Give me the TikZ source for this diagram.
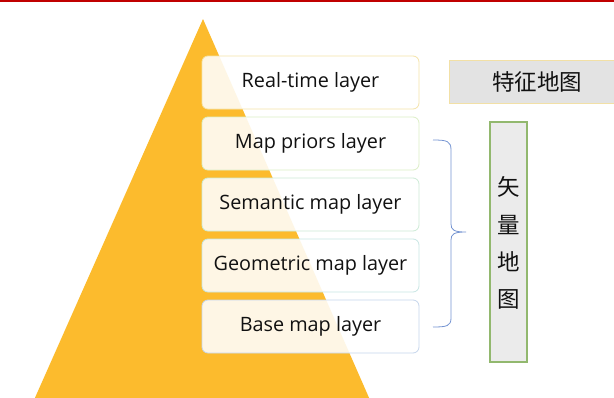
\documentclass[tikz,border=0pt]{standalone}
\usepackage{fontspec}
\setmainfont{Open Sans}
\newfontfamily\cjk{Noto Sans CJK SC}
\definecolor{tri}{HTML}{FCBB2D}
\definecolor{redline}{HTML}{C00000}
\definecolor{bA}{HTML}{F5E3A8}
\definecolor{bB}{HTML}{DCEFC6}
\definecolor{bC}{HTML}{CDEBD6}
\definecolor{bD}{HTML}{C8E6E4}
\definecolor{bE}{HTML}{C6D6EC}
\definecolor{bracec}{HTML}{7594D2}
\definecolor{graybox}{HTML}{E3E3E3}
\definecolor{graybox2}{HTML}{EBEBEB}
\definecolor{greenb}{HTML}{92B86E}
\definecolor{yelb}{HTML}{F2E0A6}
\definecolor{txt}{HTML}{111111}
\begin{document}
\begin{tikzpicture}[x=1pt,y=-1pt,
  layerbox/.style={draw, line width=0.8pt, rounded corners=6pt, fill=white, fill opacity=0.88, text opacity=1,
    minimum width=217pt, minimum height=53pt, inner sep=0pt, text=txt, font=\fontsize{19.8}{22}\selectfont},
  cjktext/.style={text=txt, font=\cjk\fontsize{22.5}{25}\selectfont}]
\useasboundingbox (0,0) rectangle (614,397);
\fill[white] (0,0) rectangle (614,397);
\draw[redline, line width=2.2pt] (0,1) -- (614,1);
% pyramid
\fill[tri] (203,19) -- (370,400) -- (34,400) -- cycle;
% layer boxes
\node[layerbox, draw=bA] (rt) at (310.5,82.5) {Real-time layer};
\node[layerbox, draw=bB] (mp) at (310.5,143.5) {Map priors layer};
\node[layerbox, draw=bC] (sm) at (310.5,204.5) {Semantic map layer};
\node[layerbox, draw=bD] (gm) at (310.5,265.5) {Geometric map layer};
\node[layerbox, draw=bE] (bm) at (310.5,326.5) {Base map layer};
% feature map box
\node[draw=yelb, fill=graybox, line width=1pt, minimum width=176pt, minimum height=43pt, inner sep=0pt, cjktext] (fm) at (537,81.5) {特征地图};
% vector map box
\node[draw=greenb, fill=graybox2, line width=1.2pt, minimum width=37pt, minimum height=240pt, inner sep=0pt] (vm) at (508.5,242) {};
\node[cjktext] (c1) at (508.5,187) {矢};
\node[cjktext] (c2) at (508.5,225) {量};
\node[cjktext] (c3) at (508.5,262) {地};
\node[cjktext] (c4) at (508.5,299) {图};
% brace
\coordinate (btop) at (433,140);
\coordinate (bbot) at (433,327);
\coordinate (btip) at (466,232);
\draw[bracec, line width=0.8pt] (btop) .. controls (447,140) and (451,141) .. (451,150)
  -- (451,224) .. controls (451,230) and (454,232) .. (btip)
  .. controls (454,232) and (451,234) .. (451,240)
  -- (451,318) .. controls (451,326) and (447,327) .. (bbot);
\end{tikzpicture}
\end{document}
